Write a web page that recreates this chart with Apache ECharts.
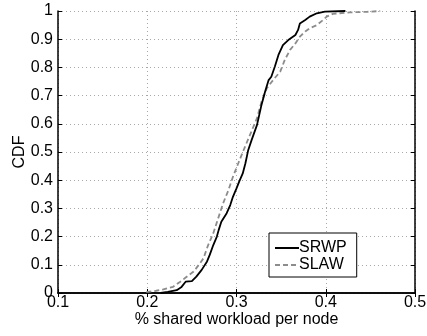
<!DOCTYPE html>
<html>
<head>
<meta charset="utf-8">
<script src="https://cdn.jsdelivr.net/npm/echarts@6/dist/echarts.min.js"></script>
<style>
  html, body { margin: 0; padding: 0; background: #fff; }
  #chart { width: 427px; height: 336px; }
</style>
</head>
<body>
<div id="chart"></div>
<script>
// Empirical CDF of the shared workload per node, two mobility models
var seriesNames = ['SRWP', 'SLAW'];

var srwpX = [0.215, 0.223, 0.233, 0.238, 0.243, 0.250, 0.255, 0.261, 0.267, 0.270, 0.274, 0.278, 0.280, 0.283, 0.289, 0.293, 0.296, 0.300, 0.303, 0.307, 0.310, 0.313, 0.317, 0.323, 0.328, 0.332, 0.336, 0.339, 0.343, 0.347, 0.352, 0.358, 0.366, 0.369, 0.371, 0.377, 0.382, 0.390, 0.399, 0.422];
var srwpY = [0, 0.004, 0.010, 0.020, 0.040, 0.042, 0.058, 0.082, 0.112, 0.135, 0.170, 0.200, 0.223, 0.253, 0.283, 0.312, 0.341, 0.371, 0.395, 0.424, 0.460, 0.505, 0.543, 0.596, 0.667, 0.714, 0.755, 0.767, 0.803, 0.844, 0.879, 0.897, 0.915, 0.933, 0.956, 0.968, 0.980, 0.992, 0.998, 1.0];

var slawX = [0.199, 0.210, 0.218, 0.229, 0.237, 0.242, 0.252, 0.259, 0.263, 0.268, 0.274, 0.280, 0.285, 0.291, 0.296, 0.302, 0.308, 0.315, 0.323, 0.328, 0.334, 0.341, 0.349, 0.354, 0.360, 0.366, 0.371, 0.377, 0.382, 0.390, 0.397, 0.401, 0.408, 0.427, 0.446, 0.461];
var slawY = [0.003, 0.008, 0.013, 0.022, 0.040, 0.052, 0.076, 0.105, 0.123, 0.168, 0.212, 0.270, 0.318, 0.365, 0.412, 0.460, 0.507, 0.560, 0.620, 0.678, 0.726, 0.755, 0.785, 0.826, 0.862, 0.885, 0.909, 0.927, 0.939, 0.950, 0.968, 0.980, 0.990, 0.995, 0.997, 1.0];

var xTicks = [0.1, 0.2, 0.3, 0.4, 0.5];
var yTicks = [0, 0.1, 0.2, 0.3, 0.4, 0.5, 0.6, 0.7, 0.8, 0.9, 1];

function zip(xs, ys) {
  return xs.map(function (x, i) { return [x, ys[i]]; });
}

var FONT = 'Liberation Sans, Arial, Helvetica, sans-serif';
var FS = 16;
var labelFmt = function (v) { return String(Math.round(v * 10) / 10); };

var chart = echarts.init(document.getElementById('chart'), null, { renderer: 'canvas' });

var tickStyle = { show: true, inside: true, length: 4, lineStyle: { color: '#000', width: 1 } };
var gridLine = { show: true, lineStyle: { color: '#a8a8a8', type: [1, 3], width: 1 } };

chart.setOption({
  animation: false,
  backgroundColor: '#fff',
  grid: { left: 58, right: 12, top: 11, bottom: 43, containLabel: false, outerBoundsMode: 'none' },
  legend: {
    orient: 'vertical',
    left: 269,
    top: 233,
    padding: [7, 10, 4, 5],
    itemGap: 1,
    itemWidth: 24,
    itemHeight: 14,
    borderColor: '#000',
    borderWidth: 1,
    borderRadius: 0,
    backgroundColor: '#fff',
    itemStyle: { opacity: 0 },
    textStyle: { fontFamily: FONT, fontSize: FS, lineHeight: 16, color: '#000', padding: [0, 0, 0, -5] },
    data: seriesNames
  },
  xAxis: [{
    type: 'value',
    min: xTicks[0], max: xTicks[xTicks.length - 1], interval: 0.1,
    name: '% shared workload per node',
    nameLocation: 'middle',
    nameGap: 19,
    nameMoveOverlap: false,
    nameTextStyle: { fontFamily: FONT, fontSize: FS, color: '#000' },
    axisLine: { show: true, lineStyle: { color: '#000', width: 1.5 } },
    axisTick: tickStyle,
    axisLabel: { fontFamily: FONT, fontSize: FS, color: '#000', margin: 2, formatter: labelFmt, showMinLabel: true, showMaxLabel: true },
    splitLine: gridLine
  }, {
    type: 'value', position: 'top',
    min: xTicks[0], max: xTicks[xTicks.length - 1], interval: 0.1,
    axisLine: { show: true, lineStyle: { color: '#000', width: 1.5 } },
    axisTick: tickStyle,
    axisLabel: { show: false },
    splitLine: { show: false }
  }],
  yAxis: [{
    type: 'value',
    min: yTicks[0], max: yTicks[yTicks.length - 1], interval: 0.1,
    name: 'CDF',
    nameLocation: 'middle',
    nameGap: 30,
    nameMoveOverlap: false,
    nameRotate: 90,
    nameTextStyle: { fontFamily: FONT, fontSize: FS, color: '#000' },
    axisLine: { show: true, lineStyle: { color: '#000', width: 1.5 } },
    axisTick: tickStyle,
    axisLabel: { fontFamily: FONT, fontSize: FS, color: '#000', margin: 5, formatter: labelFmt, showMinLabel: true, showMaxLabel: true },
    splitLine: gridLine
  }, {
    type: 'value', position: 'right',
    min: yTicks[0], max: yTicks[yTicks.length - 1], interval: 0.1,
    axisLine: { show: true, lineStyle: { color: '#000', width: 1.5 } },
    axisTick: tickStyle,
    axisLabel: { show: false },
    splitLine: { show: false }
  }],
  series: [{
    name: seriesNames[0],
    type: 'line',
    data: zip(srwpX, srwpY),
    symbol: 'none',
    z: 3,
    lineStyle: { color: '#000', width: 1.8, type: 'solid' },
    itemStyle: { color: '#000' }
  }, {
    name: seriesNames[1],
    type: 'line',
    data: zip(slawX, slawY),
    symbol: 'none',
    z: 2,
    lineStyle: { color: '#8c8c8c', width: 1.8, type: [5, 3] },
    itemStyle: { color: '#8c8c8c' }
  }]
});
</script>
</body>
</html>
